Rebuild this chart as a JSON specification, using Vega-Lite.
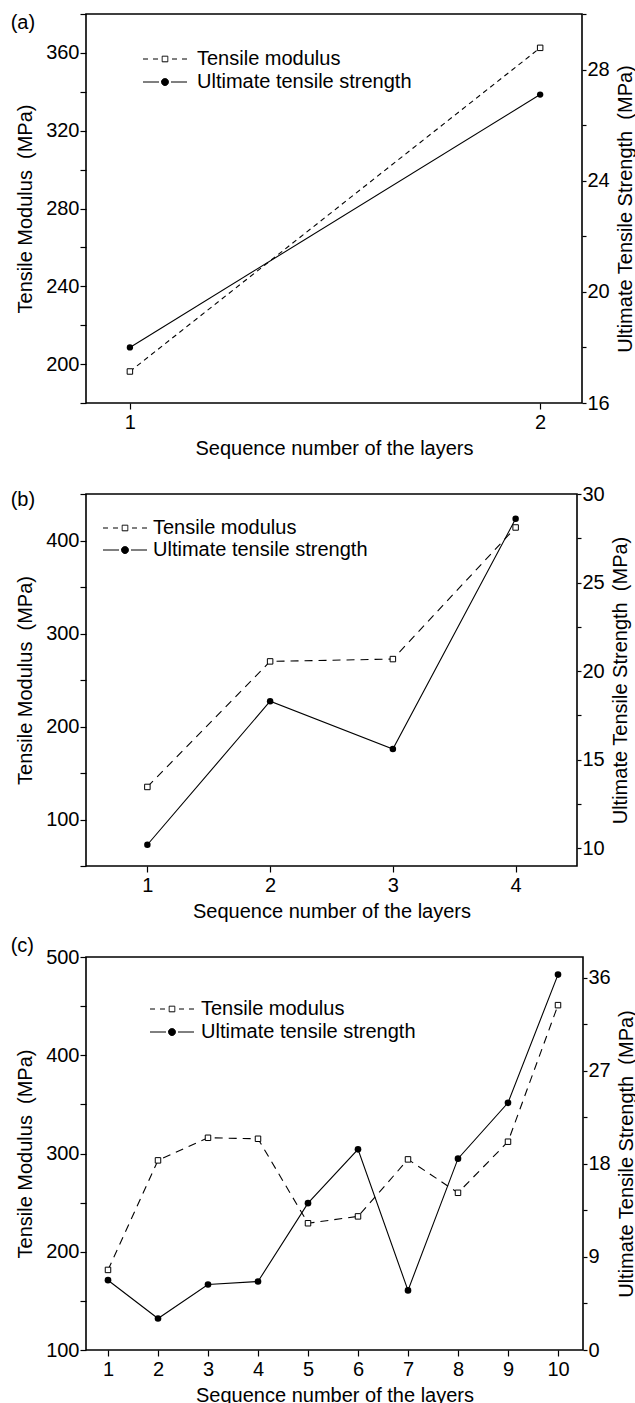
{
  "$schema": "https://vega.github.io/schema/vega-lite/v6.json",
  "padding": {"left": 9, "top": 3, "right": 0, "bottom": 0},
  "background": "white",
  "bounds": "flush",
  "spacing": 91,
  "datasets": {
    "a": [
      {"seq": 1, "series": "Tensile modulus", "value": 196.2},
      {"seq": 2, "series": "Tensile modulus", "value": 362.6},
      {"seq": 1, "series": "Ultimate tensile strength", "value": 18.0},
      {"seq": 2, "series": "Ultimate tensile strength", "value": 27.1}
    ],
    "b": [
      {"seq": 1, "series": "Tensile modulus", "value": 135},
      {"seq": 2, "series": "Tensile modulus", "value": 270},
      {"seq": 3, "series": "Tensile modulus", "value": 272.5},
      {"seq": 4, "series": "Tensile modulus", "value": 414},
      {"seq": 1, "series": "Ultimate tensile strength", "value": 10.2},
      {"seq": 2, "series": "Ultimate tensile strength", "value": 18.3},
      {"seq": 3, "series": "Ultimate tensile strength", "value": 15.6},
      {"seq": 4, "series": "Ultimate tensile strength", "value": 28.6}
    ],
    "c": [
      {"seq": 1, "series": "Tensile modulus", "value": 181.5},
      {"seq": 2, "series": "Tensile modulus", "value": 293},
      {"seq": 3, "series": "Tensile modulus", "value": 316},
      {"seq": 4, "series": "Tensile modulus", "value": 315},
      {"seq": 5, "series": "Tensile modulus", "value": 229},
      {"seq": 6, "series": "Tensile modulus", "value": 236},
      {"seq": 7, "series": "Tensile modulus", "value": 294},
      {"seq": 8, "series": "Tensile modulus", "value": 260},
      {"seq": 9, "series": "Tensile modulus", "value": 312},
      {"seq": 10, "series": "Tensile modulus", "value": 451},
      {"seq": 1, "series": "Ultimate tensile strength", "value": 6.75},
      {"seq": 2, "series": "Ultimate tensile strength", "value": 3.05},
      {"seq": 3, "series": "Ultimate tensile strength", "value": 6.33},
      {"seq": 4, "series": "Ultimate tensile strength", "value": 6.62},
      {"seq": 5, "series": "Ultimate tensile strength", "value": 14.2},
      {"seq": 6, "series": "Ultimate tensile strength", "value": 19.4},
      {"seq": 7, "series": "Ultimate tensile strength", "value": 5.76},
      {"seq": 8, "series": "Ultimate tensile strength", "value": 18.5},
      {"seq": 9, "series": "Ultimate tensile strength", "value": 23.9},
      {"seq": 10, "series": "Ultimate tensile strength", "value": 36.3}
    ]
  },
  "vconcat": [
    {
      "width": 496,
      "height": 389,
      "title": {"text": "(a)", "orient": "top", "anchor": "start", "frame": "bounds", "baseline": "top", "offset": -29, "dx": -5, "fontSize": 20, "fontWeight": "normal", "font": "Liberation Sans", "color": "black"},
      "data": {"name": "a"},
      "encoding": {
        "x": {"field": "seq", "type": "quantitative", "scale": {"domain": [0.893, 2.102], "nice": false, "zero": false},
          "axis": {"values": [1, 2], "format": "d", "title": "Sequence number of the layers"}}
      },
      "layer": [
        {
          "transform": [{"filter": "datum.series === 'Tensile modulus'"}],
          "encoding": {
            "y": {"field": "value", "type": "quantitative", "scale": {"domain": [180, 380], "nice": false, "zero": false},
              "axis": {"orient": "left", "values": [180, 200, 220, 240, 260, 280, 300, 320, 340, 360, 380], "labelExpr": "datum.value % 40 === 0 ? datum.label : ''", "title": "Tensile Modulus \u00a0(MPa)"}}
          },
          "layer": [
            {"mark": {"type": "line", "strokeDash": [5, 4], "strokeWidth": 1.1},
              "encoding": {"color": {"field": "series", "type": "nominal",
                "scale": {"domain": ["Tensile modulus", "Ultimate tensile strength"], "range": ["black", "black"]},
                "legend": {"orient": "none", "legendX": 69, "legendY": 35, "title": null, "symbolSize": 100, "labelOffset": 22, "rowPadding": 3, "padding": 0, "labelFontSize": 20, "labelFont": "Liberation Sans", "labelColor": "black", "labelLimit": 400,
                  "encode": {"symbols": {"update": {
                    "shape": {"signal": "datum.value === 'Tensile modulus' ? 'M-4.4,0L-3.4,0M-2.4,0L-1.4,0M-0.56,-0.56L0.56,-0.56L0.56,0.56L-0.56,0.56ZM1.4,0L2.4,0M3.4,0L4.4,0' : 'M-4.4,0L-1.2,0M1.2,0L4.4,0M-0.7,0A0.7,0.7,0,1,1,0.7,0A0.7,0.7,0,1,1,-0.7,0Z'"},
                    "fill": {"signal": "datum.value === 'Tensile modulus' ? 'white' : 'black'"},
                    "stroke": {"value": "black"}, "strokeWidth": {"value": 1}, "strokeDash": {"value": [1, 0]}, "opacity": {"value": 1}}}}}}}},
            {"mark": {"type": "point", "shape": "square", "size": 30, "filled": true, "fill": "white", "stroke": "black", "strokeWidth": 1, "opacity": 1}}
          ]
        },
        {
          "transform": [{"filter": "datum.series === 'Ultimate tensile strength'"}],
          "encoding": {
            "y": {"field": "value", "type": "quantitative", "scale": {"domain": [16, 30], "nice": false, "zero": false},
              "axis": {"orient": "right", "values": [16, 18, 20, 22, 24, 26, 28, 30], "labelExpr": "datum.value % 4 === 0 ? datum.label : ''", "title": "Ultimate Tensile Strength \u00a0(MPa)"}}
          },
          "layer": [
            {"mark": {"type": "line", "strokeWidth": 1.1},
              "encoding": {"color": {"field": "series", "type": "nominal",
                "scale": {"domain": ["Tensile modulus", "Ultimate tensile strength"], "range": ["black", "black"]}}}},
            {"mark": {"type": "circle", "size": 40, "color": "black", "opacity": 1}}
          ]
        }
      ],
      "resolve": {"scale": {"y": "independent"}}
    },
    {
      "width": 491,
      "height": 372,
      "title": {"text": "(b)", "orient": "top", "anchor": "start", "frame": "bounds", "baseline": "top", "offset": -26, "dx": -5, "fontSize": 20, "fontWeight": "normal", "font": "Liberation Sans", "color": "black"},
      "data": {"name": "b"},
      "encoding": {
        "x": {"field": "seq", "type": "quantitative", "scale": {"domain": [0.5, 4.5], "nice": false, "zero": false},
          "axis": {"values": [1, 2, 3, 4], "format": "d", "title": "Sequence number of the layers"}}
      },
      "layer": [
        {
          "transform": [{"filter": "datum.series === 'Tensile modulus'"}],
          "encoding": {
            "y": {"field": "value", "type": "quantitative", "scale": {"domain": [50, 450], "nice": false, "zero": false},
              "axis": {"orient": "left", "values": [50, 100, 150, 200, 250, 300, 350, 400, 450], "labelExpr": "datum.value % 100 === 0 ? datum.label : ''", "title": "Tensile Modulus \u00a0(MPa)"}}
          },
          "layer": [
            {"mark": {"type": "line", "strokeDash": [8, 6], "strokeWidth": 1.1},
              "encoding": {"color": {"field": "series", "type": "nominal",
                "scale": {"domain": ["Tensile modulus", "Ultimate tensile strength"], "range": ["black", "black"]},
                "legend": {"orient": "none", "legendX": 29, "legendY": 24, "title": null, "symbolSize": 100, "labelOffset": 18, "rowPadding": 2, "padding": 0, "labelFontSize": 20, "labelFont": "Liberation Sans", "labelColor": "black", "labelLimit": 400,
                  "encode": {"symbols": {"update": {
                    "shape": {"signal": "datum.value === 'Tensile modulus' ? 'M-4.4,0L-3.4,0M-2.4,0L-1.4,0M-0.56,-0.56L0.56,-0.56L0.56,0.56L-0.56,0.56ZM1.4,0L2.4,0M3.4,0L4.4,0' : 'M-4.4,0L-1.2,0M1.2,0L4.4,0M-0.7,0A0.7,0.7,0,1,1,0.7,0A0.7,0.7,0,1,1,-0.7,0Z'"},
                    "fill": {"signal": "datum.value === 'Tensile modulus' ? 'white' : 'black'"},
                    "stroke": {"value": "black"}, "strokeWidth": {"value": 1}, "strokeDash": {"value": [1, 0]}, "opacity": {"value": 1}}}}}}}},
            {"mark": {"type": "point", "shape": "square", "size": 30, "filled": true, "fill": "white", "stroke": "black", "strokeWidth": 1, "opacity": 1}}
          ]
        },
        {
          "transform": [{"filter": "datum.series === 'Ultimate tensile strength'"}],
          "encoding": {
            "y": {"field": "value", "type": "quantitative", "scale": {"domain": [9, 30], "nice": false, "zero": false},
              "axis": {"orient": "right", "values": [10, 12.5, 15, 17.5, 20, 22.5, 25, 27.5, 30], "labelExpr": "datum.value % 5 === 0 ? datum.label : ''", "title": "Ultimate Tensile Strength \u00a0(MPa)"}}
          },
          "layer": [
            {"mark": {"type": "line", "strokeWidth": 1.1},
              "encoding": {"color": {"field": "series", "type": "nominal",
                "scale": {"domain": ["Tensile modulus", "Ultimate tensile strength"], "range": ["black", "black"]}}}},
            {"mark": {"type": "circle", "size": 42, "color": "black", "opacity": 1}}
          ]
        }
      ],
      "resolve": {"scale": {"y": "independent"}}
    },
    {
      "width": 497,
      "height": 393,
      "title": {"text": "(c)", "orient": "top", "anchor": "start", "frame": "bounds", "baseline": "top", "offset": -9, "dx": -5, "fontSize": 20, "fontWeight": "normal", "font": "Liberation Sans", "color": "black"},
      "data": {"name": "c"},
      "encoding": {
        "x": {"field": "seq", "type": "quantitative", "scale": {"domain": [0.56, 10.5], "nice": false, "zero": false},
          "axis": {"values": [1, 2, 3, 4, 5, 6, 7, 8, 9, 10], "format": "d", "title": "Sequence number of the layers"}}
      },
      "layer": [
        {
          "transform": [{"filter": "datum.series === 'Tensile modulus'"}],
          "encoding": {
            "y": {"field": "value", "type": "quantitative", "scale": {"domain": [100, 500], "nice": false, "zero": false},
              "axis": {"orient": "left", "values": [100, 150, 200, 250, 300, 350, 400, 450, 500], "labelExpr": "datum.value % 100 === 0 ? datum.label : ''", "title": "Tensile Modulus \u00a0(MPa)"}}
          },
          "layer": [
            {"mark": {"type": "line", "strokeDash": [8, 6], "strokeWidth": 1.1},
              "encoding": {"color": {"field": "series", "type": "nominal",
                "scale": {"domain": ["Tensile modulus", "Ultimate tensile strength"], "range": ["black", "black"]},
                "legend": {"orient": "none", "legendX": 76, "legendY": 42, "title": null, "symbolSize": 100, "labelOffset": 19, "rowPadding": 3, "padding": 0, "labelFontSize": 20, "labelFont": "Liberation Sans", "labelColor": "black", "labelLimit": 400,
                  "encode": {"symbols": {"update": {
                    "shape": {"signal": "datum.value === 'Tensile modulus' ? 'M-4.4,0L-3.4,0M-2.4,0L-1.4,0M-0.56,-0.56L0.56,-0.56L0.56,0.56L-0.56,0.56ZM1.4,0L2.4,0M3.4,0L4.4,0' : 'M-4.4,0L-1.2,0M1.2,0L4.4,0M-0.7,0A0.7,0.7,0,1,1,0.7,0A0.7,0.7,0,1,1,-0.7,0Z'"},
                    "fill": {"signal": "datum.value === 'Tensile modulus' ? 'white' : 'black'"},
                    "stroke": {"value": "black"}, "strokeWidth": {"value": 1}, "strokeDash": {"value": [1, 0]}, "opacity": {"value": 1}}}}}}}},
            {"mark": {"type": "point", "shape": "square", "size": 30, "filled": true, "fill": "white", "stroke": "black", "strokeWidth": 1, "opacity": 1}}
          ]
        },
        {
          "transform": [{"filter": "datum.series === 'Ultimate tensile strength'"}],
          "encoding": {
            "y": {"field": "value", "type": "quantitative", "scale": {"domain": [0, 38], "nice": false, "zero": false},
              "axis": {"orient": "right", "values": [0, 4.5, 9, 13.5, 18, 22.5, 27, 31.5, 36], "labelExpr": "datum.value % 9 === 0 ? datum.label : ''", "title": "Ultimate Tensile Strength \u00a0(MPa)"}}
          },
          "layer": [
            {"mark": {"type": "line", "strokeWidth": 1.1},
              "encoding": {"color": {"field": "series", "type": "nominal",
                "scale": {"domain": ["Tensile modulus", "Ultimate tensile strength"], "range": ["black", "black"]}}}},
            {"mark": {"type": "circle", "size": 44, "color": "black", "opacity": 1}}
          ]
        }
      ],
      "resolve": {"scale": {"y": "independent"}}
    }
  ],
  "resolve": {"scale": {"x": "independent", "y": "independent", "color": "independent"}, "legend": {"color": "independent"}},
  "config": {
    "font": "Liberation Sans",
    "view": {"stroke": "black", "strokeWidth": 1.6},
    "axis": {"domain": false, "grid": false, "labelFont": "Liberation Sans", "labelFontSize": 20, "labelColor": "black", "labelFlush": false, "labelOverlap": false, "titleFont": "Liberation Sans", "titleFontSize": 20, "titleFontWeight": "normal", "titleColor": "black", "tickColor": "black", "tickWidth": 1.2},
    "axisLeft": {"tickSize": 6, "labelPadding": 1, "titlePadding": 10},
    "axisRight": {"tickSize": 4, "labelPadding": 1, "titlePadding": 6, "titleAngle": 270, "titleBaseline": "top"},
    "axisBottom": {"tickSize": 6, "labelPadding": 3, "titlePadding": 6}
  }
}
